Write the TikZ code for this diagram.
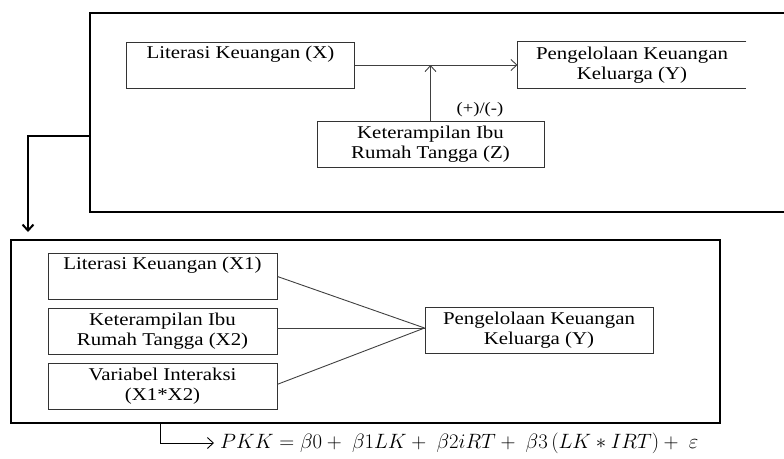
\documentclass[tikz,border=0pt]{standalone}
\usepackage{fontspec}
\setmainfont{Liberation Serif}[FakeStretch=1.16]
\usepackage{amsmath}
\usetikzlibrary{arrows.meta}
\usetikzlibrary{positioning}

\tikzset{
  varbox/.style={draw=black!80, line width=0.9pt, minimum width=228pt, minimum height=46pt,
    inner sep=2pt, align=center, font=\fontsize{18}{20}\selectfont},
  outerbox/.style={draw=black, line width=2pt},
  link/.style={draw=black!75, line width=0.9pt},
  barb/.style={-{Straight Barb[length=6pt,width=11pt]}},
}

\begin{document}
\begin{tikzpicture}[x=1pt, y=-1pt]
    \useasboundingbox (0,0) rectangle (784,458);

    % moderation model
    \draw [outerbox] (784,12.5) -| (90,211.5) -- (784,211.5);
    \node [varbox] (litX) at (240.5,65) {Literasi Keuangan (X)\\\strut};
    \node [varbox, draw=none] (pkkY) at (632,65) {Pengelolaan Keuangan\\Keluarga (Y)};
    \draw [black!80, line width=0.9pt] (pkkY.north east) -- (pkkY.north west) -- (pkkY.south west) -- (pkkY.south east);
    \node [varbox, minimum width=227pt] (kibZ) at (430.5,144) {Keterampilan Ibu\\Rumah Tangga (Z)};
    \node [font=\fontsize{16}{18}\selectfont] (sign) at (480,110) {(+)/(-)};
    \draw [link, barb] (litX.east) -- (pkkY.west);
    \draw [link, barb] (kibZ.north) -- (kibZ.north |- litX.east);

    % down to the regression model
    \coordinate (dropStart) at (90,136);
    \coordinate (dropEnd) at (28,232);
    \draw [outerbox, barb] (dropStart) -| (dropEnd);

    % regression model
    \node [outerbox, minimum width=709pt, minimum height=183pt] (modelB) at (365.5,331.5) {};
    \node [varbox, minimum width=229pt] (litX1) at (162.5,276.5) {Literasi Keuangan (X1)\\\strut};
    \node [varbox, minimum width=229pt, below=8pt of litX1] (kibX2) {Keterampilan Ibu\\Rumah Tangga (X2)};
    \node [varbox, minimum width=229pt, below=8pt of kibX2] (intX) {Variabel Interaksi\\(X1*X2)};
    \node [varbox] (pkkY2) at (539,330) {Pengelolaan Keuangan\\Keluarga (Y)};
    \coordinate (meet) at ([yshift=2pt]pkkY2.west);
    \draw [link] (litX1.east) -- (meet);
    \draw [link] (kibX2.east |- meet) -- (meet);
    \draw [link] ([yshift=2pt]intX.east) -- (meet);

    % equation
    \coordinate (eqStart) at (160,423);
    \node [anchor=west, inner sep=6pt, font=\fontsize{19.5}{21}\selectfont] (eqn) at (214,443)
        {$PKK = \beta 0 + \ \beta 1LK + \ \beta 2iRT + \ \beta 3\,(LK \ast IRT) + \ \varepsilon$};
    \draw [black, line width=0.9pt, barb] (eqStart) |- (eqn.west);
  \end{tikzpicture}
\end{document}
